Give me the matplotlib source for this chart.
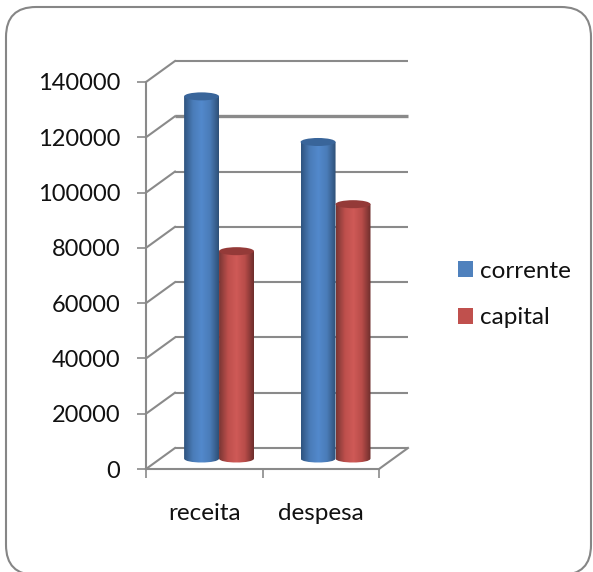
import numpy as np
import matplotlib.pyplot as plt
from matplotlib.colors import LinearSegmentedColormap
from matplotlib.patches import Ellipse, FancyBboxPatch, Patch, PathPatch
from matplotlib.path import Path
from matplotlib.transforms import IdentityTransform

categories = ['receita', 'despesa']
corrente = [131000, 114500]
capital = [75000, 92000]
y_ticks = [0, 20000, 40000, 60000, 80000, 100000, 120000, 140000]

plt.rcParams['font.family'] = ['Lato', 'DejaVu Sans']

W, H = 593, 572
GRID = '#8a8a8a'
BLUE = ['#2f5480', '#4a7cb8', '#5289cc', '#4a7cb8', '#2f5078']
RED = ['#7a3634', '#bd4f4c', '#cf5a57', '#b84c49', '#6e2e2c']
BLUE_TOP = '#39659a'
RED_TOP = '#943a38'

# depth of the fake 3d box, in data units
DX = 29 / 116.5
DY = 21 * 140000 / 387
BAR_W = 0.30
ELL_H = 2900


def cylinder(ax, x, value, colors, top_color):
    left, right = x, x + BAR_W
    base = DY / 2
    top = base + value
    # body with rounded bottom, bezier for the half ellipse
    k = 1.333 * ELL_H / 2
    verts = [(left, top), (left, base), (left, base - k), (right, base - k), (right, base),
             (right, top), (left, top)]
    codes = [Path.MOVETO, Path.LINETO, Path.CURVE4, Path.CURVE4, Path.CURVE4, Path.LINETO, Path.CLOSEPOLY]
    body = PathPatch(Path(verts, codes), fc='none', ec='none', clip_on=False, zorder=3)
    ax.add_patch(body)
    cmap = LinearSegmentedColormap.from_list('cyl', colors)
    grad = np.linspace(0, 1, 64).reshape(1, -1)
    img = ax.imshow(grad, cmap=cmap, extent=(left, right, base - ELL_H, top), aspect='auto', zorder=3)
    img.set_clip_path(body)
    ax.add_patch(Ellipse((x + BAR_W / 2, top), BAR_W, ELL_H, fc=top_color, ec='none', clip_on=False, zorder=4))


fig = plt.figure(figsize=(W / 100, H / 100), dpi=100, facecolor='white')
fig.add_artist(FancyBboxPatch((6, -3), 585, 568, boxstyle='round,pad=0,rounding_size=30',
                              transform=IdentityTransform(), fc='white', ec='#868686', lw=1.5, zorder=-1))

ax = fig.add_axes([146 / W, 1 - 469 / H, (379 - 146) / W, (469 - 82) / H])
ax.patch.set_alpha(0)

for v in y_ticks:
    lw = 2.4 if v == 120000 else 1.5
    ax.plot([DX, 2 + DX], [v + DY, v + DY], color=GRID, lw=lw, clip_on=False, zorder=1, solid_capstyle='butt')
    ax.plot([0, DX], [v, v + DY], color=GRID, lw=1.5, clip_on=False, zorder=1)
ax.plot([2, 2 + DX], [0, DY], color=GRID, lw=1.5, clip_on=False, zorder=1)

for i in range(len(categories)):
    x = i + 0.327
    cylinder(ax, x, corrente[i], BLUE, BLUE_TOP)
    cylinder(ax, x + BAR_W, capital[i], RED, RED_TOP)

ax.set_xlim(0, 2)
ax.set_ylim(0, 140000)
ax.set_yticks(y_ticks)
ax.set_xticks([0, 1, 2])
ax.set_xticklabels([])
ax.set_xticks([0.5, 1.5], minor=True)
ax.set_xticklabels(categories, minor=True)
ax.tick_params(axis='y', length=6.5, width=1.2, color=GRID, pad=12, labelsize=17, labelcolor='#111111')
ax.tick_params(axis='x', which='major', length=6.5, width=1.2, color=GRID)
ax.tick_params(axis='x', which='minor', length=0, pad=24.5, labelsize=17.5, labelcolor='#111111')
for side in ['top', 'right']:
    ax.spines[side].set_visible(False)
for side in ['left', 'bottom']:
    ax.spines[side].set_color(GRID)
    ax.spines[side].set_linewidth(1.5)

handles = [Patch(fc='#4f81bd', label='corrente'), Patch(fc='#c0504d', label='capital')]
fig.legend(handles=handles, loc='center left', bbox_to_anchor=(436 / W, 1 - 294.5 / H), frameon=False,
           fontsize=17.5, handlelength=0.62, handleheight=0.62, handletextpad=0.3, labelspacing=1.05,
           labelcolor='#111111')

fig.savefig('out.png', dpi=100)
